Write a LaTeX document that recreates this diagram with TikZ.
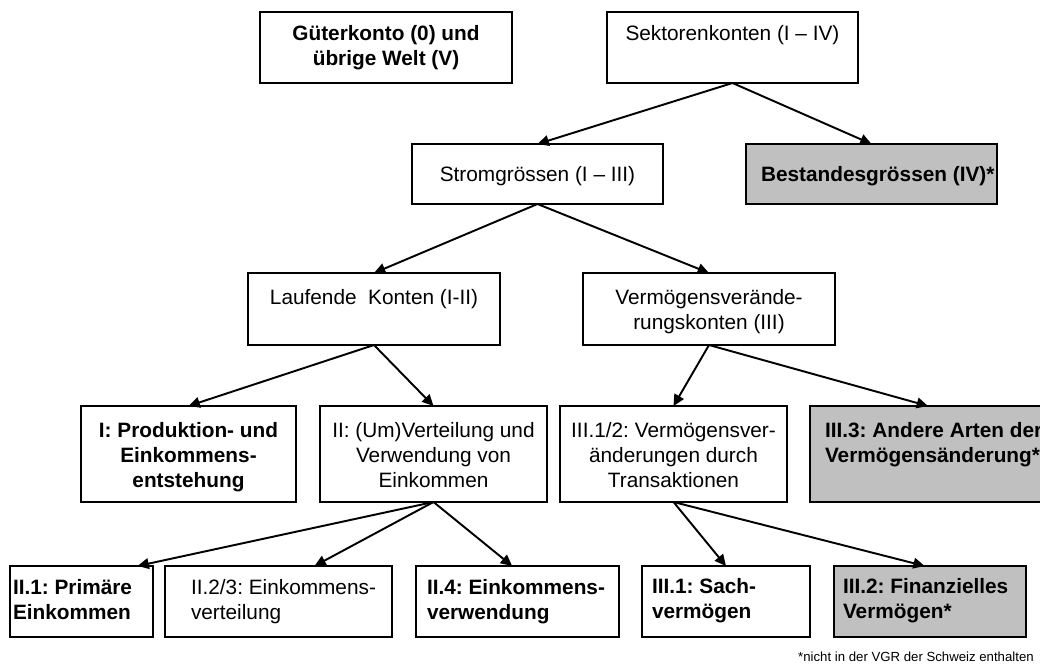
\documentclass[tikz,border=0pt]{standalone}
\usepackage{fontspec}
\setmainfont{Liberation Sans}
\usetikzlibrary{arrows.meta}
\definecolor{boxgray}{RGB}{192,192,192}
\frenchspacing
% centred text: width, height, top pad (px), text
\newcommand\bxc[4]{\parbox[c][\dimexpr #2pt*3/4\relax][t]{\dimexpr #1pt*3/4\relax}{\vspace*{\dimexpr #3pt*3/4\relax}\centering #4}}
% left text: width, height, top pad, left indent (px), text
\newcommand\bxl[5]{\parbox[c][\dimexpr #2pt*3/4\relax][t]{\dimexpr #1pt*3/4\relax}{\vspace*{\dimexpr #3pt*3/4\relax}\raggedright\leftskip=\dimexpr #4pt*3/4\relax #5}}
\begin{document}
\begin{tikzpicture}[x=0.75pt,y=-0.75pt,
  box/.style={draw=black, line width=0.8pt, fill=white, inner sep=0pt, outer sep=0pt,
    font=\fontsize{15.6}{18.75}\selectfont},
  graybox/.style={box, fill=boxgray},
  arr/.style={-{Triangle[length=8.5pt,width=8pt]}, line width=1.45pt}]
\useasboundingbox (0,0) rectangle (1040,668);
\clip (0,0) rectangle (1040,668);
% row 1
\node[box] (gk) at (386,47.5) {\bxc{252}{71}{11}{\bfseries\strut Güterkonto (0) und\\übrige Welt (V)}};
\node[box] (sk) at (732.5,47.5) {\bxc{251}{71}{11}{\strut Sektorenkonten (I – IV)}};
% row 2
\node[box] (st) at (537.5,174) {\bxc{251}{60}{20}{\strut Stromgrössen (I – III)}};
\node[graybox] (bg) at (871.5,174) {\bxl{251}{60}{20}{15}{\bfseries\strut Bestandesgrössen (IV)*}};
% row 3
\node[box] (lk) at (374,309) {\bxc{252}{72}{14}{\strut Laufende~ Konten (I-II)}};
\node[box] (vk) at (709,309) {\bxc{252}{72}{14}{\strut Vermögensverände-\\rungskonten (III)}};
% row 4
\node[box] (pe) at (188.5,454) {\bxc{215}{96}{14}{\bfseries\strut I: Produktion- und\\Einkommens-\\entstehung}};
\node[box] (uv) at (433.5,454) {\bxc{227}{96}{14}{\strut II: (Um)Verteilung und\\Verwendung von\\Einkommen}};
\node[box] (vt) at (673.5,454) {\bxc{227}{96}{14}{\strut III.1/2: Vermögensver-\\änderungen durch\\Transaktionen}};
\node[graybox] (aa) at (928,454) {\bxl{236}{96}{14}{15}{\bfseries\strut III.3: Andere Arten der\\Vermögensänderung*}};
% row 5
\node[box] (pk) at (81.5,601.5) {\bxl{143}{71}{11}{3}{\bfseries\strut II.1: Primäre\\Einkommen}};
\node[box] (ev) at (278.5,601.5) {\bxl{227}{71}{11}{26}{\strut II.2/3: Einkommens-\\verteilung}};
\node[box] (ew) at (517.5,601.5) {\bxl{203}{71}{11}{11}{\bfseries\strut II.4: Einkommens-\\verwendung}};
\node[box] (sv) at (726,601.5) {\bxl{168}{71}{10}{10}{\bfseries\strut III.1: Sach-\\vermögen}};
\node[graybox] (fv) at (930,601.5) {\bxl{192}{71}{10}{9}{\bfseries\strut III.2: Finanzielles\\Vermögen*}};
% footnote
\node[anchor=east, inner sep=0pt, font=\fontsize{9.9}{12}\selectfont] (note) at (1034,657) {*nicht in der VGR der Schweiz enthalten};
% connectors
\draw[arr] (sk.south) -- (st.north);
\draw[arr] (sk.south) -- (bg.north);
\draw[arr] (st.south) -- (lk.north);
\draw[arr] (st.south) -- (vk.north);
\draw[arr] (lk.south) -- (pe.north);
\draw[arr] (lk.south) -- (uv.north);
\draw[arr] (vk.south) -- (vt.north);
\draw[arr] (vk.south) -- (aa.north);
\draw[arr] (uv.south) -- ([xshift=42pt]pk.north);
\draw[arr] (uv.south) -- ([xshift=27pt]ev.north);
\draw[arr] (uv.south) -- ([xshift=-4pt]ew.north);
\draw[arr] (vt.south) -- (sv.north);
\draw[arr] (vt.south) -- ([xshift=-4pt]fv.north);
\end{tikzpicture}
\end{document}
